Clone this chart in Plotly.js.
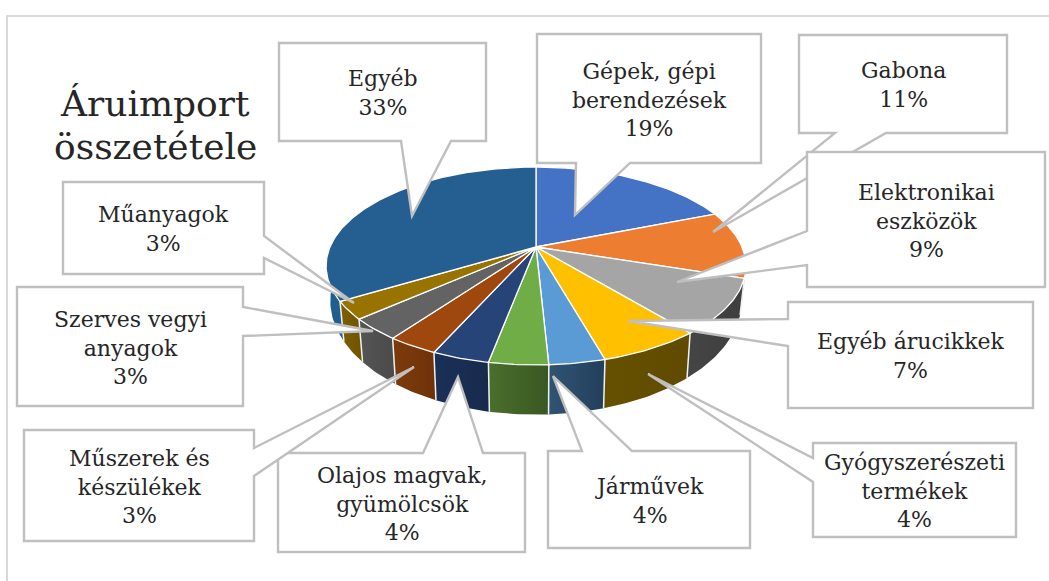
<!DOCTYPE html>
<html>
<head>
<meta charset="utf-8">
<script src="https://cdn.plot.ly/plotly-3.0.1.min.js"></script>
<style>html,body{margin:0;padding:0;background:#fff;overflow:hidden}#chart{width:1049px;height:581px}</style>
</head>
<body>
<div id="chart"></div>
<script>
// ---- data ----
const categoryLines = [
  ["Gépek, gépi","berendezések"],["Gabona"],["Elektronikai","eszközök"],["Egyéb árucikkek"],
  ["Gyógyszerészeti","termékek"],["Járművek"],["Olajos magvak,","gyümölcsök"],["Műszerek és","készülékek"],
  ["Szerves vegyi","anyagok"],["Műanyagok"],["Egyéb"]
];
const sliceShares = [19, 11, 9, 6.6, 3.6, 3.8, 3.7, 3.3, 3.5, 2.9, 33.6];
const printedPercents = [19, 11, 9, 7, 4, 4, 4, 3, 3, 3, 33];
const titleLines = ["Áruimport","összetétele"];

// ---- styling ----
const topColors = ["#4472c4","#ed7d31","#a5a5a5","#ffc000","#5b9bd5","#70ad47","#264478","#9e480e","#636363","#997300","#255e91"];
const wallLeft  = ["#2f5597","#b45f22","#454545","#665000","#305473","#4a6f2d","#1b3058","#7d3b0c","#555555","#7f6000","#1f5f8f"];
const wallRight = ["#2f5597","#b45f22","#3e3e3e","#5f4a00","#223f5c","#3a5723","#182a4c","#6e3209","#4a4a4a","#6e5300","#1f5f8f"];

// ---- projection of the tilted disc onto the page ----
const apex = {x:536, y:247}, A = 206, B = 95.3, K = 0.192;
function rim(deg, low){
  const t = deg*Math.PI/180, u = Math.sin(t), v = -Math.cos(t), d = 1 - K*v;
  const X = A*u/d, Y = B*v/d;
  return low ? [apex.x + 0.98*X, apex.y + 32 + 1.15*Y] : [apex.x + X, apex.y + Y];
}
function arc(a, b, low){
  const pts = [], n = Math.max(2, Math.ceil(Math.abs(b-a)));
  for(let i=0;i<=n;i++) pts.push(rim(a+(b-a)*i/n, low));
  return pts;
}
const total = sliceShares.reduce((s,v)=>s+v,0);
const edges = [0];
sliceShares.forEach(v=>edges.push(edges[edges.length-1]+v/total*360));

const traces = [];
const wallFrom = 98, wallTo = 274;
// side walls
sliceShares.forEach((_,i)=>{
  const a = Math.max(edges[i],wallFrom), b = Math.min(edges[i+1],wallTo);
  if(b<=a) return;
  const pts = arc(a,b,false).concat(arc(b,a,true));
  traces.push({type:"scatter",mode:"lines",x:pts.map(p=>p[0]),y:pts.map(p=>p[1]),
    fill:"toself",line:{width:0,color:wallRight[i]},
    fillgradient:{type:"horizontal",colorscale:[[0,wallLeft[i]],[1,wallRight[i]]]},
    hoverinfo:"skip",showlegend:false});
});
// wall separators
edges.forEach(e=>{
  if(e<=wallFrom||e>=wallTo) return;
  const p=rim(e,false), q=rim(e,true);
  traces.push({type:"scatter",mode:"lines",x:[p[0],q[0]],y:[p[1],q[1]],
    line:{width:1.5,color:"#f2f2f2"},hoverinfo:"skip",showlegend:false});
});
// top faces
sliceShares.forEach((_,i)=>{
  const pts = [[apex.x,apex.y]].concat(arc(edges[i],edges[i+1],false),[[apex.x,apex.y]]);
  traces.push({type:"scatter",mode:"lines",x:pts.map(p=>p[0]),y:pts.map(p=>p[1]),
    fill:"toself",fillcolor:topColors[i],line:{width:1.3,color:"#ffffff"},
    name:categoryLines[i].join(" "),hoverinfo:"name",showlegend:false});
});

// ---- callout boxes: [left, top, right, bottom], wedge [base, tip, base] ----
const boxes = [
 [537,34,761,163],[799,35,1007,133],[807,152,1045,287],[788,302,1033,408],
 [813,443,1016,537],[548,451,750,548],[278,453,525,552],[24,430,254,541],
 [17,287,243,406],[63,182,264,274],[279,43,486,141]
];
const wedges = [
 [[630,163],[575,215],[576,163]],
 [[886,133],[713,232],[835,133]],
 [[807,265],[677,282],[807,231]],
 [[788,346],[628,321],[788,319]],
 [[813,482],[648,374],[813,458]],
 [[582,451],[553,376],[632,451]],
 [[423,453],[458,377],[483,453]],
 [[254,448],[414,367],[254,476]],
 [[243,307],[373,331],[243,336]],
 [[264,236],[354,303],[264,258]],
 [[401,141],[412,216],[451,141]]
];
function sideOf(b,p){ // walk the box clockwise from top-left, dropping in the wedge on its side
  const [l,t,r,bm]=b; if(Math.abs(p[1]-t)<1) return 0; if(Math.abs(p[0]-r)<1) return 1; if(Math.abs(p[1]-bm)<1) return 2; return 3;
}
const shapes = [], annotations = [];
// outer frame
shapes.push({type:"path",path:"M7 581 L7 16 L1049 16",line:{color:"#d9d9d9",width:2},layer:"below"});
boxes.forEach((b,i)=>{
  const [l,t,r,bm]=b, w=wedges[i], side=sideOf(b,w[0]);
  // order the two base points along the clockwise walk
  const key=p=>side===0?p[0]:side===1?p[1]:side===2?-p[0]:-p[1];
  const first=key(w[0])<key(w[2])?w[0]:w[2], last=first===w[0]?w[2]:w[0];
  const wedge=[first,w[1],last];
  const corners=[[r,t],[r,bm],[l,bm],[l,t]];
  const path=[[l,t]];
  for(let s=0;s<4;s++){ if(s===side) wedge.forEach(p=>path.push(p)); path.push(corners[s]); }
  shapes.push({type:"path",path:"M"+path.map(p=>p.join(" ")).join(" L")+" Z",
    fillcolor:"#ffffff",line:{color:"#bfbfbf",width:2.4},layer:"above"});
  annotations.push({x:(l+r)/2,y:(t+bm)/2+1,xref:"x",yref:"y",xanchor:"center",yanchor:"middle",showarrow:false,
    text:categoryLines[i].concat(printedPercents[i]+"%").join("<br>"),align:"center",
    font:{family:"'DejaVu Serif', serif",size:22,color:"#262626"}});
});
titleLines.forEach((t,i)=>annotations.push({x:155,y:103+43*i,xref:"x",yref:"y",xanchor:"center",yanchor:"middle",showarrow:false,
  text:t,font:{family:"'DejaVu Serif', serif",size:36,color:"#262626"}}));

Plotly.newPlot("chart",traces,{
  width:1049,height:581,margin:{l:0,r:0,t:0,b:0},
  paper_bgcolor:"#ffffff",plot_bgcolor:"#ffffff",showlegend:false,
  xaxis:{range:[0,1049],visible:false,fixedrange:true},
  yaxis:{range:[581,0],visible:false,fixedrange:true},
  shapes:shapes,annotations:annotations
},{displayModeBar:false,staticPlot:true});
</script>
</body>
</html>
